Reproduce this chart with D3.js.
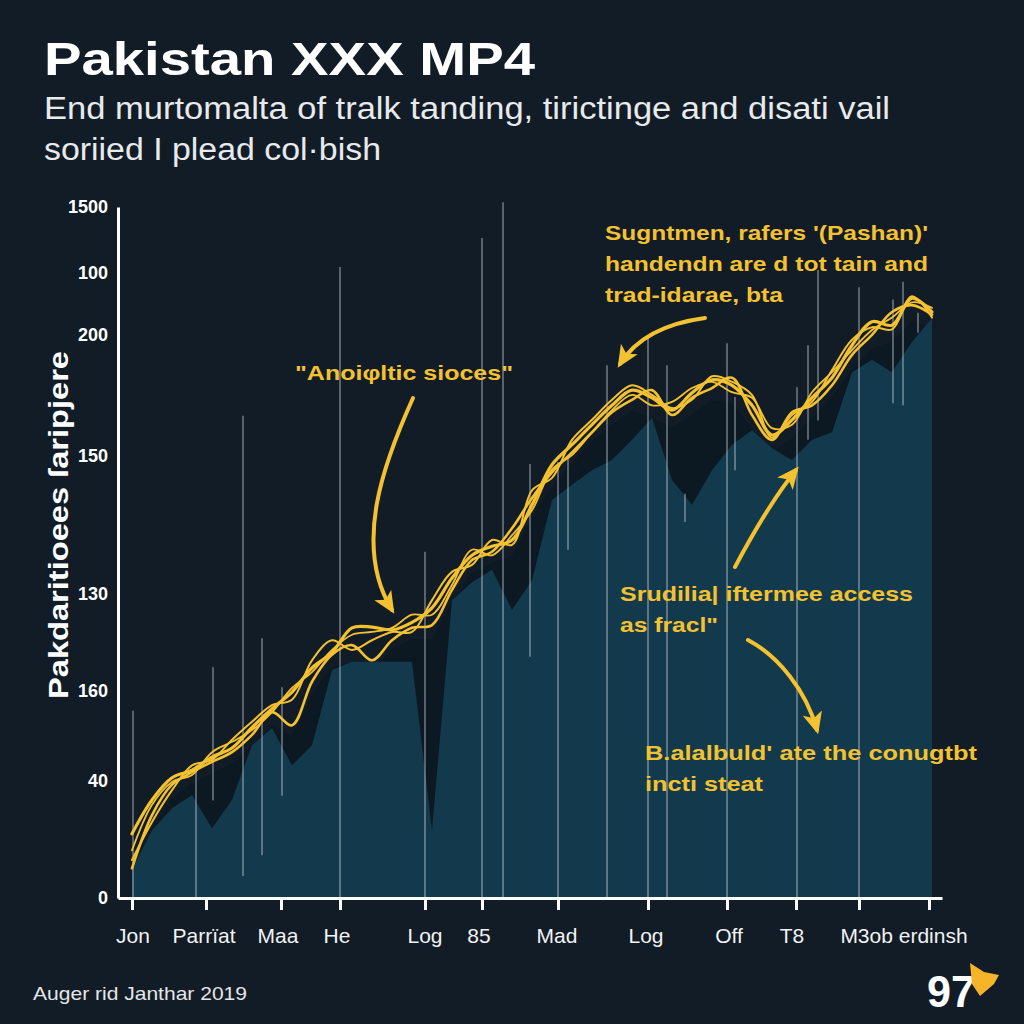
<!DOCTYPE html>
<html><head><meta charset="utf-8">
<script src="https://cdn.jsdelivr.net/npm/d3@7"></script>
<style>html,body{margin:0;padding:0;background:#111c27;}svg{display:block;}</style>
</head><body>
<script>
// ---------- DATA ----------
const xIndex = d3.range(41); // sample positions along the time axis
const strandA = [9.3,14.2,17.4,18.5,20.4,21.7,24.7,27.4,29.8,33.3,35.5,39.1,39.2,38.8,39.9,42.0,46.3,49.6,50.9,51.8,56.9,62.7,65.6,68.5,71.3,73.5,72.4,70.6,73.1,75.0,74.2,71.3,67.0,69.2,72.4,75.3,80.0,83.4,82.9,86.8,84.8];
const strandB = [4.3,12.0,16.4,18.2,19.7,21.1,23.6,26.9,25.0,31.3,35.2,36.6,34.4,37.3,39.1,39.5,44.6,48.9,50.1,53.5,57.9,61.6,64.5,67.4,70.3,72.1,73.5,69.9,72.4,73.8,75.3,69.9,66.3,70.3,71.3,74.2,78.6,81.5,84.8,85.8,84.4];
const strandC = [6.9,13.5,16.8,17.8,21.1,22.6,24.3,26.9,30.4,32.7,35.9,38.1,38.5,39.1,41.0,41.0,45.3,50.4,49.6,52.5,56.1,62.0,64.1,67.4,70.6,72.8,71.3,71.8,73.8,74.7,73.2,72.4,68.0,68.5,73.2,76.1,79.3,82.2,84.0,86.2,85.4];
const strandD = [5.5,11.0,15.6,19.2,20.0,22.9,25.5,27.9,28.7,34.4,37.3,35.9,37.3,38.5,38.5,43.1,47.2,48.2,51.8,51.1,59.0,60.8,66.3,69.2,72.1,74.2,72.8,70.9,72.1,75.5,74.7,72.8,66.6,69.9,71.8,76.4,80.8,82.6,82.3,87.1,84.0];
const shadowTop = [4,10,14.5,16.5,18,19.5,22,25,23.5,29.5,33.5,34,33,36,37.5,37.5,43,47,48.5,49.5,55,59.5,63,66,68.5,70.5,69.5,68,70,72,71.5,68,64.5,66.5,69.5,72.5,76.5,79.5,80.5,83.5,82.5];
const areaTop = [4.1,9.8,13.0,14.9,10.1,14.2,22.1,24.6,19.2,22.1,33.0,34.2,34.2,34.2,34.2,9.8,43.1,45.7,47.5,41.7,46.0,57.6,59.8,61.9,63.4,66.3,69.5,60.5,56.9,61.9,65.6,67.7,65.1,63.4,66.3,67.4,76.1,77.9,76.1,80.5,83.9];

const yTickPos = [0,17,30,44,64,81.5,90.5,100];
const yTickLabels = ["0","40","160","130","150","200","100","1500"];
const xTickPos = [0,3.7,7.45,10.4,14.65,17.5,21.3,25.8,29.75,33.2,36.35,39.85];
const xLabelPos = [0.05,3.6,7.3,10.25,14.65,17.35,21.25,25.7,29.85,33.0,38.6];
const xLabels = ["Jon","Parrïat","Maa","He","Log","85","Mad","Log","Off","T8","M3ob erdinsh"];

// vertical rule lines: x position, top value, bottom value
const ruleX   = [0.05,3.2,4.05,5.55,6.5,7.5,10.4,14.65,17.5,18.55,19.9,21.3,21.8,23.75,25.8,26.75,27.65,29.75,30.15,33.25,33.8,34.3,36.35,38.05,38.55,39.3];
const ruleTop = [27.1,19.2,33.4,69.8,37.6,30.5,91.3,50.1,95.5,100.7,62.8,63.1,64.1,77.1,81.2,77.1,58.5,80.3,72.5,73.9,80.0,90.9,88.4,86.6,89.2,84.7];
const ruleBot = [0,0,14.1,3.2,6.2,14.8,0,0,0,0,34.9,0,50.4,0,0,0,54.4,0,61.9,0,66.3,69.1,0,71.6,71.3,81.8];

const titleText = "Pakistan XXX MP4";
const subtitleLines = ["End murtomalta of tralk tanding, tirictinge and disati vail","soriied I plead col·bish"];
const yAxisTitle = "Pakdaritioees ſaripjere";
const footerText = "Auger rid Janthar 2019";

// ---------- DRAW ----------
const W = 1024, H = 1024;
const YEL = "#f4c231";
const svg = d3.select("body").append("svg").attr("width", W).attr("height", H);
svg.append("rect").attr("width", W).attr("height", H).attr("fill", "#111c27");

const x = d3.scaleLinear().domain([-0.7, 40.5]).range([118, 942]);
const y = d3.scaleLinear().domain([0, 100]).range([898, 207]);

// areas
const areaGen = d3.area().x((d,i)=>x(xIndex[i])).y0(y(0)).y1(d=>y(d));
svg.append("path").datum(shadowTop).attr("d", areaGen).attr("fill", "#0c1822");
svg.append("path").datum(areaTop).attr("d", areaGen).attr("fill", "#133a4c");

// rule lines
svg.append("g").selectAll("line").data(ruleX).join("line")
  .attr("x1", d=>x(d)).attr("x2", d=>x(d))
  .attr("y1", (d,i)=>y(ruleTop[i])).attr("y2", (d,i)=>y(ruleBot[i]))
  .attr("stroke", "#c9d3dc").attr("stroke-opacity", 0.4).attr("stroke-width", 2);

// yellow strands
const lineGen = d3.line().x((d,i)=>x(xIndex[i])).y(d=>y(d)).curve(d3.curveCatmullRom.alpha(0.5));
[[strandD,2],[strandC,1.8],[strandB,2.6],[strandA,3.2]].forEach(([s,w])=>{
  svg.append("path").datum(s).attr("d", lineGen).attr("fill","none")
    .attr("stroke", YEL).attr("stroke-width", w).attr("stroke-linejoin","round").attr("stroke-linecap","round");
});

// axes
const yAxis = d3.axisLeft(y).tickValues(yTickPos).tickFormat((d,i)=>yTickLabels[i]).tickSize(0).tickPadding(10);
const gy = svg.append("g").attr("transform", `translate(${x(-0.7)},0)`).call(yAxis);
gy.select(".domain").attr("stroke", "#ffffff").attr("stroke-width", 3);
gy.selectAll("text").attr("fill", "#ffffff").attr("font-family", "Liberation Sans, Arial, sans-serif")
  .attr("font-weight", "bold").attr("font-size", 18);

const xAxis = d3.axisBottom(x).tickValues(xTickPos).tickFormat("").tickSize(12).tickSizeOuter(0);
const gx = svg.append("g").attr("transform", `translate(0,${y(0)})`).call(xAxis);
gx.select(".domain").attr("stroke", "#ffffff").attr("stroke-width", 3);
gx.selectAll(".tick line").attr("stroke", "#ffffff").attr("stroke-width", 3);

svg.append("g").selectAll("text").data(xLabels).join("text")
  .attr("x", (d,i)=>x(xLabelPos[i])).attr("y", 943)
  .attr("text-anchor", "middle").attr("fill", "#f2f2f2")
  .attr("font-family", "Liberation Sans, Arial, sans-serif").attr("font-size", 21)
  .text(d=>d);

// y axis title
svg.append("text").attr("transform", "translate(68,525) rotate(-90)")
  .attr("text-anchor", "middle").attr("fill", "#ffffff")
  .attr("font-family", "Liberation Sans, Arial, sans-serif").attr("font-weight", "bold").attr("font-size", 27)
  .attr("textLength", 348).attr("lengthAdjust", "spacingAndGlyphs")
  .text(yAxisTitle);

// title and subtitle
svg.append("text").attr("x", 44).attr("y", 75).attr("fill", "#ffffff")
  .attr("font-family", "Liberation Sans, Arial, sans-serif").attr("font-weight", "bold").attr("font-size", 47)
  .attr("textLength", 491).attr("lengthAdjust", "spacingAndGlyphs").text(titleText);
const subLen = [846, 337];
subtitleLines.forEach((t,i)=>{
  svg.append("text").attr("x", 44).attr("y", 119 + i*41).attr("fill", "#e8eaec")
    .attr("font-family", "Liberation Sans, Arial, sans-serif").attr("font-size", 31)
    .attr("textLength", subLen[i]).attr("lengthAdjust", "spacingAndGlyphs").text(t);
});

// footer
svg.append("text").attr("x", 33).attr("y", 1000).attr("fill", "#e6e6e6")
  .attr("font-family", "Liberation Sans, Arial, sans-serif").attr("font-size", 19)
  .attr("textLength", 214).attr("lengthAdjust", "spacingAndGlyphs").text(footerText);

// annotations
const defs = svg.append("defs");
defs.append("marker").attr("id","ah").attr("viewBox","0 0 20 18").attr("refX",16).attr("refY",9)
  .attr("markerWidth",22).attr("markerHeight",20).attr("markerUnits","userSpaceOnUse").attr("orient","auto")
  .append("path").attr("d","M0,0 L20,9 L0,18 L5,9 Z").attr("fill", YEL);

const annFont = "Liberation Sans, Arial, sans-serif";
function annText(lines, x0, y0, lens, anchor){
  lines.forEach((t,i)=>{
    svg.append("text").attr("x", x0).attr("y", y0 + i*31).attr("fill", YEL)
      .attr("text-anchor", anchor || "start")
      .attr("font-family", annFont).attr("font-weight", "bold").attr("font-size", 21)
      .attr("textLength", lens[i]).attr("lengthAdjust", "spacingAndGlyphs").text(t);
  });
}
annText(["Sugntmen, rafers '(Pashan)'", "handendn are d tot tain and", "trad-idarae, bta"], 605, 240, [323, 323, 178]);
annText(["\"Anoiφltic sioces\""], 295, 380, [218]);
annText(["Srudilia| iftermee access", "as fracl\""], 620, 601, [293, 98]);
annText(["B.alalbuld' ate the conugtbt", "incti steat"], 645, 760, [332, 118]);

const arrows = [
  "M705,318 C675,322 640,332 620,364",
  "M413,398 C385,460 352,545 392,610",
  "M735,567 C752,535 772,500 796,470",
  "M748,640 C778,656 806,690 817,730"
];
arrows.forEach(d=>{
  svg.append("path").attr("d", d).attr("fill","none").attr("stroke", YEL)
    .attr("stroke-width", 4).attr("stroke-linecap","round").attr("marker-end","url(#ah)");
});

// logo
svg.append("text").attr("x", 927).attr("y", 1007).attr("fill", "#ffffff")
  .attr("font-family", "Liberation Sans, Arial, sans-serif").attr("font-weight", "bold")
  .attr("font-size", 44).attr("textLength", 48).attr("lengthAdjust","spacingAndGlyphs").text("97");
svg.append("path").attr("d", "M970,963 L984,972 L999,975 L994,984 L980,996 L972,984 Z").attr("fill", "#f5b42a");
</script>
</body></html>
